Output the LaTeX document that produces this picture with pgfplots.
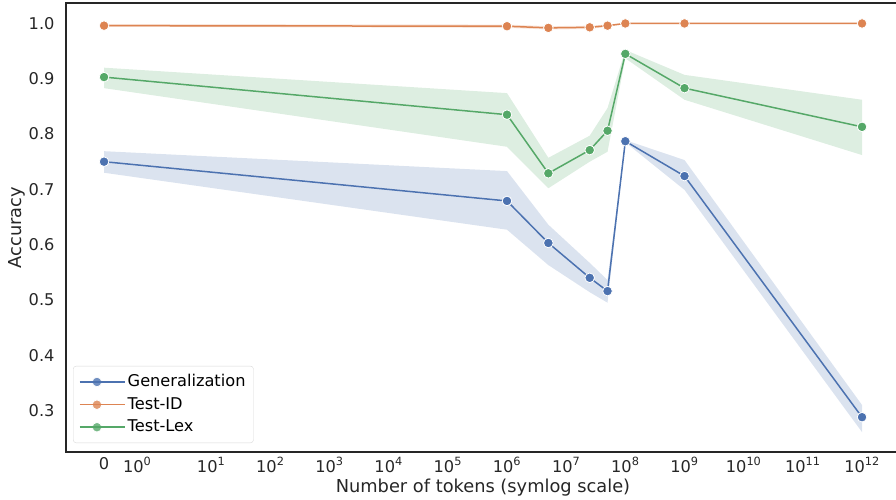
\documentclass[border=0pt]{standalone}
\usepackage{fontspec}
\setmainfont{DejaVu Sans}
\usepackage{pgfplots}
\pgfplotsset{compat=1.18}
\definecolor{cblue}{HTML}{4C72B0}
\definecolor{corange}{HTML}{DD8452}
\definecolor{cgreen}{HTML}{55A868}
\definecolor{txt}{HTML}{262626}

% x positions: symlog-like, 0 -> -0.81, 10^0 -> -0.25, 10^k -> k
\begin{document}
\fontsize{16bp}{19bp}\selectfont
\begin{tikzpicture}
\begin{axis}[
    scale only axis,
    width=834bp, height=449bp,
    xmin=-1.453, xmax=12.642,
    ymin=0.225, ymax=1.037,
    xtick={-0.81,-0.25,1,2,3,4,5,6,7,8,9,10,11,12},
    xticklabels={0,10\textsuperscript{0},10\textsuperscript{1},10\textsuperscript{2},10\textsuperscript{3},10\textsuperscript{4},10\textsuperscript{5},10\textsuperscript{6},10\textsuperscript{7},10\textsuperscript{8},10\textsuperscript{9},10\textsuperscript{10},10\textsuperscript{11},10\textsuperscript{12}},
    ytick={0.3,0.4,0.5,0.6,0.7,0.8,0.9,1.0},
    yticklabel style={/pgf/number format/fixed,/pgf/number format/fixed zerofill,/pgf/number format/precision=1,xshift=-6bp},
    /pgf/number format/assume math mode=true,
    major tick length=0pt,
    tick label style={text=txt, font=\fontsize{16.2bp}{19bp}\selectfont},
    axis line style={txt, line width=1.1bp},
    xlabel={Number of tokens (symlog scale)},
    ylabel={Accuracy},
    label style={text=txt, font=\fontsize{17.8bp}{21bp}\selectfont},
    xlabel style={at={(axis description cs:0.5,-0.080)}, anchor=center},
    ylabel style={at={(axis description cs:-0.0588,0.5)}, anchor=center, rotate=0},
    legend cell align=left,
    legend style={at={(0.0084,0.02)}, anchor=south west, draw=black!15, rounded corners=3bp,
        fill=white, fill opacity=0.8, text opacity=1, draw opacity=1, row sep=4.3bp, inner xsep=6bp, inner ysep=6.5bp,
        font=\fontsize{16.2bp}{19bp}\selectfont},
    legend image code/.code={\draw[mark repeat=2,mark phase=2,line width=1.5bp,#1] plot coordinates {(0bp,0bp) (17bp,0bp) (34bp,0bp)};
        \path (0bp,0bp) -- (45bp,0bp);},
    every axis plot/.append style={line width=1.5bp, mark=*, mark size=4.8bp},
]
% confidence bands
\addplot[draw=none, fill=cblue, fill opacity=0.2, mark=none, forget plot] coordinates {
    (-0.81,0.769) (6,0.733) (6.699,0.636) (7.398,0.567) (7.699,0.536) (8,0.789) (9,0.753) (12,0.310)
    (12,0.261) (9,0.699) (8,0.785) (7.699,0.495) (7.398,0.514) (6.699,0.563) (6,0.627) (-0.81,0.730)} -- cycle;
\addplot[draw=none, fill=corange, fill opacity=0.2, mark=none, forget plot] coordinates {
    (-0.81,0.999) (6,0.998) (6.699,0.995) (7.398,0.996) (7.699,0.998) (8,1.001) (9,1.001) (12,1.001)
    (12,0.999) (9,0.999) (8,0.999) (7.699,0.994) (7.398,0.990) (6.699,0.989) (6,0.992) (-0.81,0.994)} -- cycle;
\addplot[draw=none, fill=cgreen, fill opacity=0.2, mark=none, forget plot] coordinates {
    (-0.81,0.920) (6,0.874) (6.699,0.757) (7.398,0.797) (7.699,0.847) (8,0.952) (9,0.907) (12,0.862)
    (12,0.762) (9,0.862) (8,0.937) (7.699,0.768) (7.398,0.750) (6.699,0.702) (6,0.777) (-0.81,0.883)} -- cycle;
% mean lines
\addplot[cblue, mark options={draw=white, line width=0.8bp, fill=cblue}] coordinates {
    (-0.81,0.750) (6,0.679) (6.699,0.603) (7.398,0.540) (7.699,0.516) (8,0.787) (9,0.724) (12,0.288)};
\addlegendentry{Generalization}
\addplot[corange, mark options={draw=white, line width=0.8bp, fill=corange}] coordinates {
    (-0.81,0.996) (6,0.995) (6.699,0.992) (7.398,0.993) (7.699,0.996) (8,1.000) (9,1.000) (12,1.000)};
\addlegendentry{Test-ID}
\addplot[cgreen, mark options={draw=white, line width=0.8bp, fill=cgreen}] coordinates {
    (-0.81,0.903) (6,0.835) (6.699,0.729) (7.398,0.771) (7.699,0.806) (8,0.945) (9,0.883) (12,0.813)};
\addlegendentry{Test-Lex}
\end{axis}
\pgfresetboundingbox
\path ([xshift=-66bp,yshift=-48bp]current axis.south west) rectangle ++(896bp,500bp);
\end{tikzpicture}
\end{document}
